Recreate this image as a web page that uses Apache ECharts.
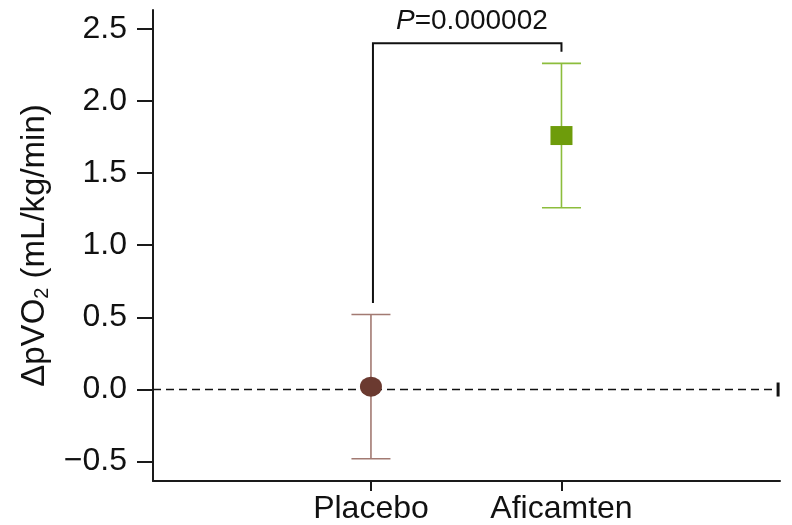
<!DOCTYPE html>
<html><head><meta charset="utf-8">
<script src="https://cdn.jsdelivr.net/npm/echarts@6/dist/echarts.min.js"></script>
<style>html,body{margin:0;padding:0;background:#fff}#c{width:792px;height:525px}</style>
</head><body><div id="c"></div>
<script>
// ---- data ----
const categories = ['Placebo', 'Aficamten'];
const positions = [1, 2];
const means = [0.02, 1.76];
const lower = [-0.48, 1.26];
const upper = [0.52, 2.26];
const yTicks = [-0.5, 0, 0.5, 1, 1.5, 2, 2.5];
const pValueNum = '=0.000002';
const bracketTop = 2.40;
const bracketBottoms = [0.60, 2.34];
const pLabelPos = [1.53, 2.55];
const xRange = [-0.144, 3.147];
const yRange = [-0.634, 2.63];
const zeroLineEnd = 3.137;

// ---- styles ----
const FONT = 'Liberation Sans';
const barColors = ['#a27a72', '#8cbd3c'];
const markerColors = ['#6b3a30', '#6e9c0b'];
const markerSymbols = ['circle', 'rect'];
const markerSizes = [[22, 20], [22, 19]];

const chart = echarts.init(document.getElementById('c'), null, {renderer: 'canvas'});

const errData = positions.map((p, i) => [p, lower[i], upper[i], i]);

const option = {
  animation: false,
  backgroundColor: '#fff',
  grid: {left: 153, right: 12, top: 10, bottom: 42.3, containLabel: false},
  xAxis: {
    type: 'value', min: xRange[0], max: xRange[1],
    splitLine: {show: false},
    axisLine: {show: true, onZero: false, lineStyle: {color: '#1a1a1a', width: 2}},
    axisTick: {show: true, inside: false, length: 10, lineStyle: {color: '#1a1a1a', width: 2}, customValues: positions},
    axisLabel: {
      customValues: positions, margin: 12,
      fontFamily: FONT, fontSize: 32, color: '#111',
      formatter: v => { const i = positions.indexOf(v); return i >= 0 ? categories[i] : ''; }
    }
  },
  yAxis: {
    type: 'value', min: yRange[0], max: yRange[1],
    splitLine: {show: false},
    axisLine: {show: true, onZero: false, lineStyle: {color: '#1a1a1a', width: 2}},
    axisTick: {show: true, inside: false, length: 16, lineStyle: {color: '#1a1a1a', width: 2}, customValues: yTicks},
    axisLabel: {
      customValues: yTicks, margin: 26,
      fontFamily: FONT, fontSize: 32, color: '#111',
      formatter: v => (v < 0 ? '\u2212' : '') + Math.abs(v).toFixed(1)
    },
    name: '{a|\u0394pVO}{s|2}{a| (mL/kg/min)}',
    nameLocation: 'middle', nameGap: 92,
    nameTextStyle: {
      fontFamily: FONT, fontSize: 33, color: '#111',
      rich: {
        a: {fontFamily: FONT, fontSize: 33, color: '#111', lineHeight: 36},
        s: {fontFamily: FONT, fontSize: 20, color: '#111', verticalAlign: 'bottom', lineHeight: 36}
      }
    }
  },
  series: [
    {
      type: 'custom', name: 'zero', silent: true, z: 1,
      data: [[xRange[0], zeroLineEnd, 0]],
      renderItem: (params, api) => {
        const a = api.coord([api.value(0), api.value(2)]);
        const b = api.coord([api.value(1), api.value(2)]);
        return {type: 'group', children: [
          {type: 'line', shape: {x1: a[0], y1: a[1], x2: b[0], y2: b[1]},
           style: {stroke: '#111', lineWidth: 1.6, lineDash: [8, 5]}},
          {type: 'line', shape: {x1: b[0], y1: b[1] - 7, x2: b[0], y2: b[1] + 7},
           style: {stroke: '#111', lineWidth: 3}}
        ]};
      }
    },
    {
      type: 'custom', name: 'errors', silent: true, z: 2,
      data: errData,
      renderItem: (params, api) => {
        const i = api.value(3);
        const lo = api.coord([api.value(0), api.value(1)]);
        const hi = api.coord([api.value(0), api.value(2)]);
        const w = 19.5;
        const st = {stroke: barColors[i], lineWidth: 1.6};
        return {type: 'group', children: [
          {type: 'line', shape: {x1: lo[0], y1: lo[1], x2: hi[0], y2: hi[1]}, style: st},
          {type: 'line', shape: {x1: lo[0] - w, y1: lo[1], x2: lo[0] + w, y2: lo[1]}, style: st},
          {type: 'line', shape: {x1: hi[0] - w, y1: hi[1], x2: hi[0] + w, y2: hi[1]}, style: st}
        ]};
      }
    },
    {
      type: 'scatter', name: 'means', z: 3, silent: true,
      data: positions.map((p, i) => ({
        value: [p, means[i]],
        symbol: markerSymbols[i], symbolSize: markerSizes[i],
        itemStyle: {color: markerColors[i], opacity: 1}
      }))
    },
    {
      type: 'custom', name: 'bracket', silent: true, z: 4,
      data: [[positions[0], positions[1], bracketTop, bracketBottoms[0], bracketBottoms[1]]],
      renderItem: (params, api) => {
        const l0 = api.coord([api.value(0), api.value(3)]);
        const lt = api.coord([api.value(0), api.value(2)]);
        const rt = api.coord([api.value(1), api.value(2)]);
        const r0 = api.coord([api.value(1), api.value(4)]);
        const lab = api.coord(pLabelPos);
        return {type: 'group', children: [
          {type: 'polyline', shape: {points: [[l0[0] + 2, l0[1]], [lt[0] + 2, lt[1]], rt, r0]},
           style: {stroke: '#111', lineWidth: 2, fill: null}},
          {type: 'text', x: lab[0], y: lab[1],
           style: {text: '{i|P}{n|' + pValueNum + '}', align: 'center', verticalAlign: 'middle',
             rich: {
               i: {fontFamily: FONT, fontSize: 28, fontStyle: 'italic', fill: '#111'},
               n: {fontFamily: FONT, fontSize: 28, fill: '#111'}
             }}}
        ]};
      }
    }
  ]
};
chart.setOption(option);
</script>
</body></html>
